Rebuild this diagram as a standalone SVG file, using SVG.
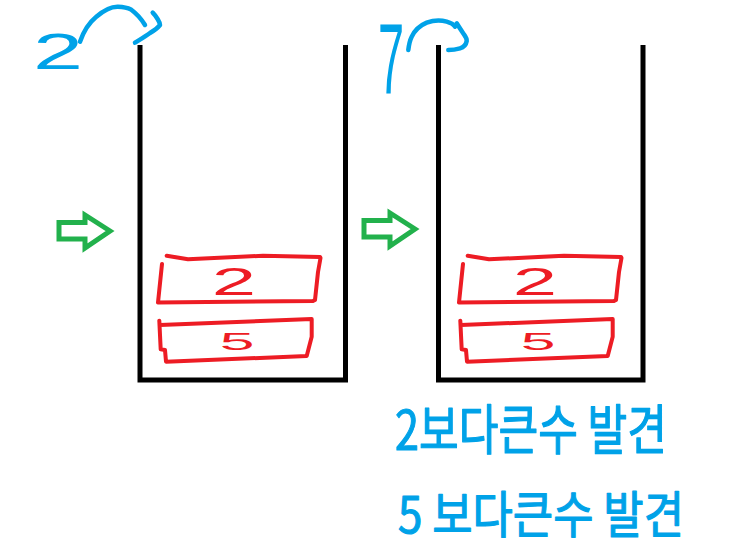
<svg xmlns="http://www.w3.org/2000/svg" width="741" height="557" viewBox="0 0 741 557">
<style>
.bin{fill:none;stroke:#000;stroke-width:5;stroke-linejoin:miter}
.box{fill:none;stroke:#ed1c24;stroke-width:4;stroke-linejoin:round;stroke-linecap:round}
.rnum{font-family:"Liberation Sans","Noto Sans",sans-serif;fill:#ed1c24;text-anchor:middle}
.garrow{fill:none;stroke:#22b14c;stroke-width:5;stroke-linejoin:miter}
.blue{fill:none;stroke:#00a2e8;stroke-width:4.5;stroke-linecap:round;stroke-linejoin:round}
.btxt{font-family:"Noto Sans CJK KR","Liberation Sans",sans-serif;fill:#00a2e8;stroke:#00a2e8;stroke-width:1.2;stroke-linejoin:round}
.bnum{font-family:"Liberation Sans","Noto Sans",sans-serif;fill:#00a2e8;text-anchor:middle}
</style>
<rect width="741" height="557" fill="#fff"/>
<g id="stack-1">
  <path class="bin" d="M140,45 V380 H345.5 V45"/>
  <g id="stack-1-item-2">
    <path class="box" d="M162,264 L158,302.5 L313,301 L315,300 L318,272 L320.5,258 L320,257 L263,255.7 L188,259.3 L166.7,255.7"/>
    <text class="rnum" font-size="38" transform="translate(234,295) scale(2.1,1)">2</text>
  </g>
  <g id="stack-1-item-5">
    <path class="box" d="M160,325 L311.7,319 L311.7,336.7 L306.7,356 L166,361.7 L165,350 L160.7,349.3 L159.3,320.7"/>
    <text class="rnum" font-size="24" transform="translate(237,350) scale(2.6,1)">5</text>
  </g>
</g>
<g id="stack-2">
  <path class="bin" d="M438.5,45 V380 H643 V45"/>
  <g id="stack-2-item-2">
    <path class="box" transform="translate(301,0)" d="M162,264 L158,302.5 L313,301 L315,300 L318,272 L320.5,258 L320,257 L263,255.7 L188,259.3 L166.7,255.7"/>
    <text class="rnum" font-size="38" transform="translate(535,295) scale(2.1,1)">2</text>
  </g>
  <g id="stack-2-item-5">
    <path class="box" transform="translate(301,0)" d="M160,325 L311.7,319 L311.7,336.7 L306.7,356 L166,361.7 L165,350 L160.7,349.3 L159.3,320.7"/>
    <text class="rnum" font-size="24" transform="translate(538,350) scale(2.6,1)">5</text>
  </g>
</g>
<g id="label-2">
  <text class="bnum" font-size="50" transform="translate(58,69) scale(1.8,1)">2</text>
</g>
<g id="label-7">
  <text class="bnum" font-size="70" transform="translate(391,94) scale(0.67,1.42)">7</text>
</g>
<g id="notes">
  <text class="btxt" x="395" y="450" font-size="54" textLength="272" lengthAdjust="spacingAndGlyphs">2보다큰수 발견</text>
  <text class="btxt" x="398" y="533" font-size="50" textLength="286" lengthAdjust="spacingAndGlyphs">5 보다큰수 발견</text>
</g>
<g id="connectors">
  <polygon class="garrow" points="59,222.5 85,222.5 85,215 110,231 85,248 85,239 59,239"/>
  <polygon class="garrow" points="364,220.5 390,220.5 390,213 415,229 390,246 390,237 364,237"/>
  <path class="blue" d="M80,41.7 C84,30 90,22 96,17 C104,10 112,6.5 118,6.7 C124,7 128,8 131,9.5 C137,14 142,20 145,25"/>
  <path class="blue" d="M135,42.7 C141,39 146,36 150,33 C155,30 158,27.5 160,25 C160,22 156,16 152.7,12.7"/>
  <path class="blue" d="M408.3,50 C409,44 410,40 411.7,36.7 C415,30 420,25.5 426.7,22.7 C434,20 441,20 446.7,21.7 C451,23 454,25 455,26.7"/>
  <path class="blue" d="M456.7,23.3 C459,27 461,30 463,33 C465,36 467,38 466.7,41 C466,45 463,47.5 460,48.3 C456,49.5 452,50 448.3,50"/>
</g>
</svg>
